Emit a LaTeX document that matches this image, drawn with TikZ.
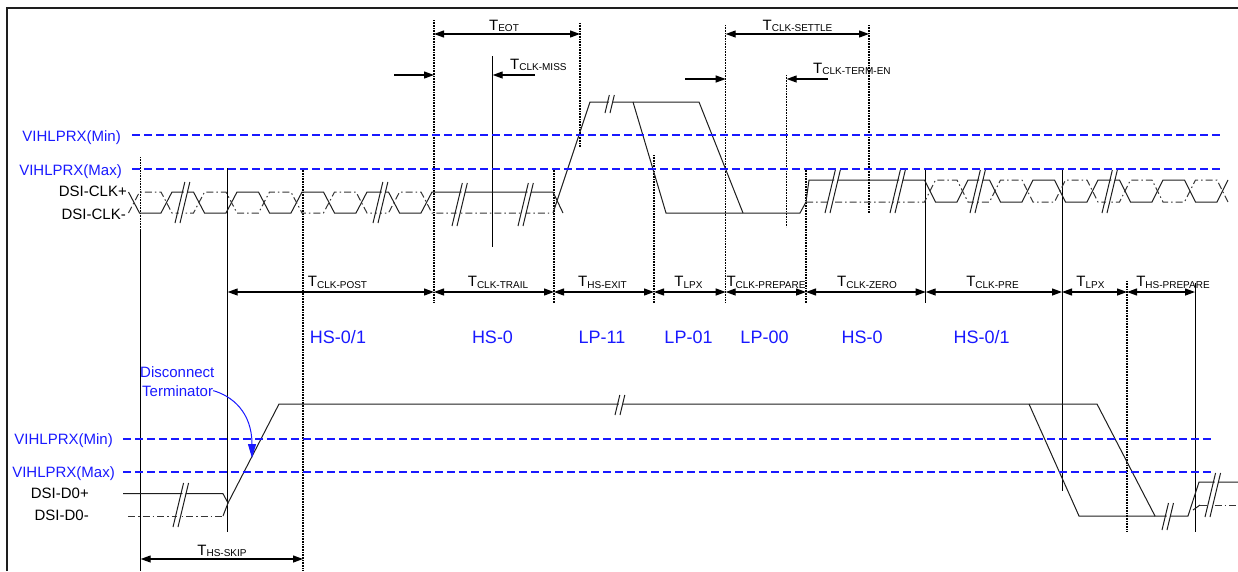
\documentclass[tikz,border=0pt]{standalone}
\usepackage{fontspec}
\setmainfont{Liberation Sans}
\usepackage{tikz}
\usetikzlibrary{arrows.meta}
\definecolor{sg}{RGB}{30, 30, 30}
\definecolor{vb}{RGB}{25, 25, 255}
\newcommand{\tsub}[1]{{\fontsize{15}{15}\selectfont T}\raisebox{-1.5pt}{\fontsize{10}{10}\selectfont #1}}
\newcommand{\brk}[3]{%
\fill[white] (#1pt+1.5pt,-#2pt) -- ++(0.24*#2pt-0.24*#3pt, #2pt-#3pt) -- ++(3pt,0pt) -- ++(-0.24*#2pt+0.24*#3pt, -#2pt+#3pt) -- cycle;
\draw [sig] (#1pt,-#2pt) -- ++(0.24*#2pt-0.24*#3pt, #2pt-#3pt);
\draw [sig] (#1pt+5pt,-#2pt) -- ++(0.24*#2pt-0.24*#3pt, #2pt-#3pt);}

\begin{document}
\begin{tikzpicture}[
sig/.style={line width=1pt, color=sg},
sigb/.style={line width=1pt, color=sg!90, dash pattern=on 7pt off 3pt on 1.5pt off 3pt},
lvl/.style={line width=1.6pt, color=vb, dash pattern=on 8pt off 4pt},
mk/.style={line width=1pt, color=black},
mkd/.style={line width=1.5pt, color=black, dash pattern=on 1pt off 0.6pt},
dim/.style={line width=1.2pt, {Triangle[length=10pt,width=7pt]}-{Triangle[length=10pt,width=7pt]}},
one/.style={line width=1.2pt, -{Triangle[length=10pt,width=7pt]}},
lab/.style={inner sep=0pt, font=\fontsize{15}{15}\selectfont},
st/.style={inner sep=0pt, text=vb, font=\fontsize{18}{18}\selectfont, anchor=base},
tl/.style={inner sep=0pt, anchor=base}]
\useasboundingbox (0pt,0pt) rectangle (1238pt,-571pt);
\draw [line width=2pt, color=sg] (7pt,-571pt) -- (7pt,-8pt) -- (1238pt,-8pt);
\node (vmin1) [lab, text=vb, anchor=base east] at (121pt,-141.5pt) {VIHLPRX(Min)};
\node (vmax1) [lab, text=vb, anchor=base east] at (122pt,-175pt) {VIHLPRX(Max)};
\node (vmin2) [lab, text=vb, anchor=base east] at (113pt,-444pt) {VIHLPRX(Min)};
\node (vmax2) [lab, text=vb, anchor=base east] at (115pt,-477.5pt) {VIHLPRX(Max)};
\node (clkp) [lab, anchor=base east] at (127pt,-196.5pt) {DSI-CLK+};
\node (clkn) [lab, anchor=base east] at (126pt,-219pt) {DSI-CLK-};
\node (d0p) [lab, anchor=base east] at (89pt,-498pt) {DSI-D0+};
\node (d0n) [lab, anchor=base east] at (89pt,-520.5pt) {DSI-D0-};
\draw [mkd] (140.7pt,-157pt) -- (140.7pt,-230pt);
\draw [mk, line width=0.9pt] (140.7pt,-230pt) -- (140.7pt,-571pt);
\draw [mk] (227.7pt,-168pt) -- (227.7pt,-532pt);
\draw [mkd] (303pt,-168pt) -- (303pt,-571pt);
\draw [mkd] (434pt,-20pt) -- (434pt,-303pt);
\draw [mk] (492.7pt,-56pt) -- (492.7pt,-247pt);
\draw [mkd] (554pt,-168pt) -- (554pt,-303pt);
\draw [mkd] (580pt,-23pt) -- (580pt,-147pt);
\draw [mkd] (654pt,-155pt) -- (654pt,-303pt);
\draw [mkd] (725.7pt,-25pt) -- (725.7pt,-303pt);
\draw [mkd] (786.7pt,-75pt) -- (786.7pt,-227pt);
\draw [mkd] (806pt,-168pt) -- (806pt,-303pt);
\draw [mkd] (869pt,-25pt) -- (869pt,-213pt);
\draw [mk] (925.7pt,-168pt) -- (925.7pt,-303pt);
\draw [mk] (1062pt,-168pt) -- (1062pt,-491pt);
\draw [mkd] (1127pt,-281pt) -- (1127pt,-532pt);
\draw [mk] (1195pt,-283pt) -- (1195pt,-532pt);
\draw [sig] (128.5pt,-192pt) -- (139.5pt,-213pt) -- (161pt,-213pt) -- (172pt,-192pt) -- (193.5pt,-192pt) -- (204.5pt,-213pt) -- (226pt,-213pt) -- (237pt,-192pt) -- (258.5pt,-192pt) -- (269.5pt,-213pt) -- (291pt,-213pt) -- (302pt,-192pt) -- (323.5pt,-192pt) -- (334.5pt,-213pt) -- (356pt,-213pt) -- (367pt,-192pt) -- (388.5pt,-192pt) -- (399.5pt,-213pt) -- (421pt,-213pt) -- (432pt,-192pt) -- (553pt,-192pt) -- (563pt,-213pt);
\draw [sigb] (128.5pt,-213pt) -- (139.5pt,-192pt) -- (161pt,-192pt) -- (172pt,-213pt) -- (193.5pt,-213pt) -- (204.5pt,-192pt) -- (226pt,-192pt) -- (237pt,-213pt) -- (258.5pt,-213pt) -- (269.5pt,-192pt) -- (291pt,-192pt) -- (302pt,-213pt) -- (323.5pt,-213pt) -- (334.5pt,-192pt) -- (356pt,-192pt) -- (367pt,-213pt) -- (388.5pt,-213pt) -- (399.5pt,-192pt) -- (421pt,-192pt) -- (432pt,-213pt) -- (549pt,-213pt);
\draw [sig] (553pt,-213pt) -- (590pt,-102pt) -- (699pt,-102pt) -- (743pt,-213pt);
\draw [sig] (633pt,-102pt) -- (666pt,-213pt) -- (800pt,-213pt) -- (806pt,-202pt) -- (809pt,-180pt) -- (924.5pt,-180pt) -- (935.5pt,-202pt) -- (957pt,-202pt) -- (968pt,-180pt) -- (989.5pt,-180pt) -- (1000.5pt,-202pt) -- (1022pt,-202pt) -- (1033pt,-180pt) -- (1054.5pt,-180pt) -- (1065.5pt,-202pt) -- (1087pt,-202pt) -- (1098pt,-180pt) -- (1119.5pt,-180pt) -- (1130.5pt,-202pt) -- (1152pt,-202pt) -- (1163pt,-180pt) -- (1184.5pt,-180pt) -- (1195.5pt,-202pt) -- (1217pt,-202pt) -- (1228pt,-180pt);
\draw [sigb] (806pt,-202pt) -- (924.5pt,-202pt) -- (935.5pt,-180pt) -- (957pt,-180pt) -- (968pt,-202pt) -- (989.5pt,-202pt) -- (1000.5pt,-180pt) -- (1022pt,-180pt) -- (1033pt,-202pt) -- (1054.5pt,-202pt) -- (1065.5pt,-180pt) -- (1087pt,-180pt) -- (1098pt,-202pt) -- (1119.5pt,-202pt) -- (1130.5pt,-180pt) -- (1152pt,-180pt) -- (1163pt,-202pt) -- (1184.5pt,-202pt) -- (1195.5pt,-180pt) -- (1217pt,-180pt) -- (1228pt,-202pt);
\draw [sig] (123pt,-493.7pt) -- (223pt,-493.7pt) -- (228pt,-503pt) -- (279pt,-404pt) -- (1097pt,-404pt) -- (1155pt,-516pt) -- (1188pt,-516pt) -- (1199pt,-482pt) -- (1238pt,-482pt);
\draw [sig] (1029pt,-404pt) -- (1079pt,-516pt) -- (1155pt,-516pt);
\draw [sigb] (128pt,-516pt) -- (223pt,-516pt);
\draw [sig] (223pt,-516pt) -- (228pt,-503pt);
\draw [sig] (1193pt,-510pt) -- (1200pt,-505pt);
\draw [sigb] (1200pt,-505pt) -- (1238pt,-505pt);
\brk{175}{223}{182}
\brk{373}{223}{182}
\brk{452}{226}{183}
\brk{518}{226}{183}
\brk{605}{113}{95}
\brk{825}{213}{170}
\brk{890}{213}{170}
\brk{970}{213}{170}
\brk{1102}{213}{170}
\brk{173}{527}{483}
\brk{615}{415}{395}
\brk{1162}{530}{503}
\brk{1205}{517}{473}
\draw [lvl] (132pt,-135pt) -- (1220pt,-135pt);
\draw [lvl] (132pt,-169pt) -- (1220pt,-169pt);
\draw [lvl] (123pt,-438.7pt) -- (1212pt,-438.7pt);
\draw [lvl] (123pt,-471.7pt) -- (1212pt,-471.7pt);
\coordinate (r1) at (227.7pt,-292pt);
\coordinate (r2) at (434pt,-292pt);
\coordinate (r3) at (554pt,-292pt);
\coordinate (r4) at (654pt,-292pt);
\coordinate (r5) at (725.7pt,-292pt);
\coordinate (r6) at (806pt,-292pt);
\coordinate (r7) at (925.7pt,-292pt);
\coordinate (r8) at (1062pt,-292pt);
\coordinate (r9) at (1127pt,-292pt);
\coordinate (r10) at (1195pt,-292pt);
\draw [dim] (r1) -- (r2);
\draw [dim] (r2) -- (r3);
\draw [dim] (r3) -- (r4);
\draw [dim] (r4) -- (r5);
\draw [dim] (r5) -- (r6);
\draw [dim] (r6) -- (r7);
\draw [dim] (r7) -- (r8);
\draw [dim] (r8) -- (r9);
\draw [dim] (r9) -- (r10);
\coordinate (e1) at (434pt,-34pt);
\coordinate (e2) at (580pt,-34pt);
\coordinate (s1) at (725.7pt,-34pt);
\coordinate (s2) at (869pt,-34pt);
\coordinate (m0) at (394pt,-75pt);
\coordinate (m1) at (434pt,-75pt);
\coordinate (m2) at (535pt,-75pt);
\coordinate (m3) at (492.7pt,-75pt);
\coordinate (n0) at (685pt,-79pt);
\coordinate (n1) at (725.7pt,-79pt);
\coordinate (n2) at (828pt,-79pt);
\coordinate (n3) at (786.7pt,-79pt);
\coordinate (k1) at (140.7pt,-559pt);
\coordinate (k2) at (303pt,-559pt);
\draw [dim] (e1) -- (e2);
\draw [dim] (s1) -- (s2);
\draw [one] (m0) -- (m1);
\draw [one] (m2) -- (m3);
\draw [one] (n0) -- (n1);
\draw [one] (n2) -- (n3);
\draw [dim] (k1) -- (k2);
\node (teot) [tl] at (504pt,-30pt) {\tsub{EOT}};
\node (tmiss) [tl, anchor=base west] at (510pt,-69pt) {\tsub{CLK-MISS}};
\node (tsettle) [tl] at (797.5pt,-30pt) {\tsub{CLK-SETTLE}};
\node (tterm) [tl, anchor=base west] at (813pt,-73pt) {\tsub{CLK-TERM-EN}};
\node (tskip) [tl] at (222pt,-555pt) {\tsub{HS-SKIP}};
\node (tpost) [tl] at (337.5pt,-286.7pt) {\tsub{CLK-POST}};
\node (ttrail) [tl] at (498pt,-286.7pt) {\tsub{CLK-TRAIL}};
\node (texit) [tl] at (602.5pt,-286.7pt) {\tsub{HS-EXIT}};
\node (tlpx1) [tl] at (688.5pt,-286.7pt) {\tsub{LPX}};
\node (tprep) [tl] at (766pt,-286.7pt) {\tsub{CLK-PREPARE}};
\node (tzero) [tl] at (867pt,-286.7pt) {\tsub{CLK-ZERO}};
\node (tpre) [tl] at (992.5pt,-286.7pt) {\tsub{CLK-PRE}};
\node (tlpx2) [tl] at (1090.5pt,-286.7pt) {\tsub{LPX}};
\node (thsp) [tl] at (1173pt,-286.7pt) {\tsub{HS-PREPARE}};
\node (hs01a) [st] at (338pt,-343.3pt) {HS-0/1};
\node (hs0a) [st] at (492.5pt,-343.3pt) {HS-0};
\node (lp11) [st] at (602pt,-343.3pt) {LP-11};
\node (lp01) [st] at (688.5pt,-343.3pt) {LP-01};
\node (lp00) [st] at (764.5pt,-343.3pt) {LP-00};
\node (hs0b) [st] at (862pt,-343.3pt) {HS-0};
\node (hs01b) [st] at (981.5pt,-343.3pt) {HS-0/1};
\node (disc) [lab, text=vb, anchor=base west] at (140pt,-377.7pt) {Disconnect};
\node (term) [lab, text=vb, anchor=base west] at (142pt,-396pt) {Terminator};
\coordinate (tip) at (252pt,-458pt);
\draw [line width=1pt, color=vb, -{Triangle[length=14pt,width=8pt]}] (term.east) .. controls (232pt,-396pt) and (252pt,-412pt) .. (tip);
\end{tikzpicture}
\end{document}
